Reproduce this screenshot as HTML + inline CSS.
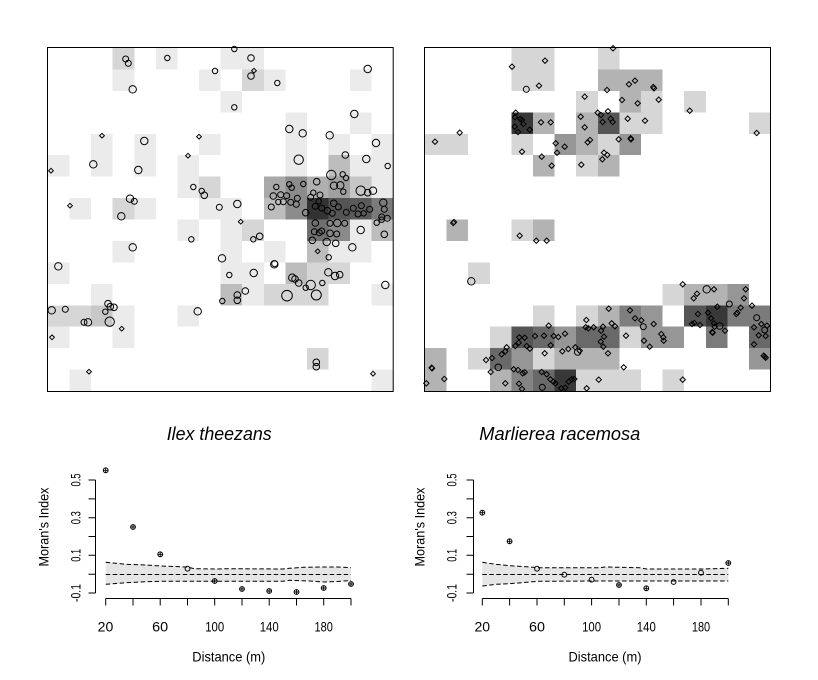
<!DOCTYPE html>
<html><head><meta charset="utf-8"><style>
html,body{margin:0;padding:0;background:#fff;}
svg{display:block;}
text{font-family:"Liberation Sans",Arial,sans-serif;fill:#000;}
</style></head><body>
<svg width="818" height="680" viewBox="0 0 818 680" xmlns="http://www.w3.org/2000/svg">
<defs>
<path id="d" d="M0,-2.4L2.4,0L0,2.4L-2.4,0Z" fill="none" stroke="#000" stroke-width="1"/>
<path id="e" d="M0,-2.7L2.7,0L0,2.7L-2.7,0Z" fill="none" stroke="#000" stroke-width="1"/>
<g id="cp"><circle r="2.4" fill="none" stroke="#000" stroke-width="1"/><path d="M-2.4,0H2.4M0,-2.4V2.4" stroke="#000" stroke-width="0.9"/></g>
<circle id="co" r="2.4" fill="none" stroke="#000" stroke-width="1"/>
</defs>
<rect width="818" height="680" fill="#fff"/>

<!-- Panel 1 cells -->
<g transform="translate(48,48) scale(21.58,21.44)" shape-rendering="crispEdges">
<rect x="3" y="0" width="1" height="1" fill="#d6d6d6"/><rect x="5" y="0" width="1" height="1" fill="#ebebeb"/><rect x="8" y="0" width="2" height="1" fill="#ebebeb"/>
<rect x="3" y="1" width="1" height="1" fill="#ebebeb"/><rect x="7" y="1" width="1" height="1" fill="#ebebeb"/><rect x="9" y="1" width="1" height="1" fill="#d6d6d6"/><rect x="10" y="1" width="1" height="1" fill="#ebebeb"/><rect x="14" y="1" width="1" height="1" fill="#ebebeb"/>
<rect x="8" y="2" width="1" height="1" fill="#ebebeb"/>
<rect x="11" y="3" width="1" height="1" fill="#ebebeb"/><rect x="14" y="3" width="1" height="1" fill="#ebebeb"/>
<rect x="2" y="4" width="1" height="1" fill="#ebebeb"/><rect x="4" y="4" width="1" height="1" fill="#ebebeb"/><rect x="7" y="4" width="1" height="1" fill="#ebebeb"/><rect x="11" y="4" width="1" height="1" fill="#ebebeb"/><rect x="13" y="4" width="1" height="1" fill="#ebebeb"/><rect x="15" y="4" width="1" height="1" fill="#ebebeb"/>
<rect x="0" y="5" width="1" height="1" fill="#ebebeb"/><rect x="2" y="5" width="1" height="1" fill="#ebebeb"/><rect x="4" y="5" width="1" height="1" fill="#ebebeb"/><rect x="6" y="5" width="1" height="1" fill="#ebebeb"/><rect x="11" y="5" width="1" height="1" fill="#ebebeb"/><rect x="13" y="5" width="1" height="1" fill="#bdbdbd"/><rect x="14" y="5" width="2" height="1" fill="#ebebeb"/>
<rect x="6" y="6" width="1" height="1" fill="#ebebeb"/><rect x="7" y="6" width="1" height="1" fill="#d6d6d6"/><rect x="10" y="6" width="1" height="1" fill="#a8a8a8"/><rect x="11" y="6" width="1" height="1" fill="#8c8c8c"/><rect x="12" y="6" width="1" height="1" fill="#b0b0b0"/><rect x="13" y="6" width="1" height="1" fill="#a0a0a0"/><rect x="14" y="6" width="1" height="1" fill="#c6c6c6"/><rect x="15" y="6" width="1" height="1" fill="#ebebeb"/>
<rect x="1" y="7" width="1" height="1" fill="#ebebeb"/><rect x="3" y="7" width="1" height="1" fill="#d6d6d6"/><rect x="4" y="7" width="1" height="1" fill="#ebebeb"/><rect x="7" y="7" width="2" height="1" fill="#ebebeb"/><rect x="10" y="7" width="1" height="1" fill="#bdbdbd"/><rect x="11" y="7" width="1" height="1" fill="#8c8c8c"/><rect x="12" y="7" width="1" height="1" fill="#333333"/><rect x="13" y="7" width="1" height="1" fill="#555555"/><rect x="14" y="7" width="1" height="1" fill="#5a5a5a"/><rect x="15" y="7" width="1" height="1" fill="#7b7b7b"/>
<rect x="6" y="8" width="1" height="1" fill="#ebebeb"/><rect x="8" y="8" width="1" height="1" fill="#ebebeb"/><rect x="9" y="8" width="1" height="1" fill="#d6d6d6"/><rect x="12" y="8" width="1" height="1" fill="#707070"/><rect x="13" y="8" width="1" height="1" fill="#8a8a8a"/><rect x="14" y="8" width="1" height="1" fill="#ebebeb"/><rect x="15" y="8" width="1" height="1" fill="#bdbdbd"/>
<rect x="3" y="9" width="1" height="1" fill="#ebebeb"/><rect x="8" y="9" width="1" height="1" fill="#ebebeb"/><rect x="10" y="9" width="1" height="1" fill="#ebebeb"/><rect x="12" y="9" width="1" height="1" fill="#bdbdbd"/><rect x="13" y="9" width="2" height="1" fill="#ebebeb"/>
<rect x="0" y="10" width="1" height="1" fill="#ebebeb"/><rect x="8" y="10" width="2" height="1" fill="#ebebeb"/><rect x="11" y="10" width="1" height="1" fill="#bdbdbd"/><rect x="12" y="10" width="2" height="1" fill="#d6d6d6"/>
<rect x="2" y="11" width="1" height="1" fill="#ebebeb"/><rect x="8" y="11" width="1" height="1" fill="#bdbdbd"/><rect x="9" y="11" width="1" height="1" fill="#ebebeb"/><rect x="10" y="11" width="3" height="1" fill="#d6d6d6"/><rect x="15" y="11" width="1" height="1" fill="#ebebeb"/>
<rect x="0" y="12" width="2" height="1" fill="#d6d6d6"/><rect x="2" y="12" width="1" height="1" fill="#c8c8c8"/><rect x="3" y="12" width="1" height="1" fill="#ebebeb"/><rect x="6" y="12" width="1" height="1" fill="#ebebeb"/>
<rect x="0" y="13" width="1" height="1" fill="#ebebeb"/><rect x="3" y="13" width="1" height="1" fill="#ebebeb"/>
<rect x="12" y="14" width="1" height="1" fill="#d6d6d6"/>
<rect x="1" y="15" width="1" height="1" fill="#ebebeb"/><rect x="15" y="15" width="1" height="1" fill="#ebebeb"/>
</g>

<!-- Panel 2 cells -->
<g transform="translate(425,48) scale(21.6,21.44)" shape-rendering="crispEdges">
<rect x="4" y="0" width="2" height="1" fill="#d6d6d6"/><rect x="8" y="0" width="1" height="1" fill="#d6d6d6"/>
<rect x="4" y="1" width="2" height="1" fill="#d6d6d6"/><rect x="8" y="1" width="3" height="1" fill="#b3b3b3"/>
<rect x="7" y="2" width="1" height="1" fill="#d6d6d6"/><rect x="9" y="2" width="1" height="1" fill="#b3b3b3"/><rect x="10" y="2" width="1" height="1" fill="#d6d6d6"/><rect x="12" y="2" width="1" height="1" fill="#d6d6d6"/>
<rect x="4" y="3" width="1" height="1" fill="#383838"/><rect x="5" y="3" width="1" height="1" fill="#b3b3b3"/><rect x="7" y="3" width="1" height="1" fill="#b3b3b3"/><rect x="8" y="3" width="1" height="1" fill="#555555"/><rect x="9" y="3" width="2" height="1" fill="#d6d6d6"/><rect x="15" y="3" width="1" height="1" fill="#d6d6d6"/>
<rect x="0" y="4" width="2" height="1" fill="#d6d6d6"/><rect x="4" y="4" width="1" height="1" fill="#d6d6d6"/><rect x="6" y="4" width="1" height="1" fill="#969696"/><rect x="7" y="4" width="1" height="1" fill="#b3b3b3"/><rect x="8" y="4" width="1" height="1" fill="#d6d6d6"/><rect x="9" y="4" width="1" height="1" fill="#969696"/>
<rect x="5" y="5" width="1" height="1" fill="#b3b3b3"/><rect x="7" y="5" width="1" height="1" fill="#d6d6d6"/><rect x="8" y="5" width="1" height="1" fill="#b3b3b3"/>
<rect x="1" y="8" width="1" height="1" fill="#b3b3b3"/><rect x="4" y="8" width="1" height="1" fill="#d6d6d6"/><rect x="5" y="8" width="1" height="1" fill="#b3b3b3"/>
<rect x="2" y="10" width="1" height="1" fill="#d6d6d6"/>
<rect x="11" y="11" width="1" height="1" fill="#d6d6d6"/><rect x="12" y="11" width="2" height="1" fill="#b3b3b3"/><rect x="14" y="11" width="1" height="1" fill="#969696"/>
<rect x="5" y="12" width="1" height="1" fill="#d6d6d6"/><rect x="7" y="12" width="1" height="1" fill="#d6d6d6"/><rect x="8" y="12" width="1" height="1" fill="#b3b3b3"/><rect x="9" y="12" width="1" height="1" fill="#7f7f7f"/><rect x="10" y="12" width="1" height="1" fill="#969696"/><rect x="12" y="12" width="1" height="1" fill="#555555"/><rect x="13" y="12" width="1" height="1" fill="#383838"/><rect x="14" y="12" width="2" height="1" fill="#7b7b7b"/>
<rect x="3" y="13" width="1" height="1" fill="#d6d6d6"/><rect x="4" y="13" width="1" height="1" fill="#555555"/><rect x="5" y="13" width="1" height="1" fill="#696969"/><rect x="6" y="13" width="1" height="1" fill="#969696"/><rect x="7" y="13" width="2" height="1" fill="#696969"/><rect x="9" y="13" width="1" height="1" fill="#d6d6d6"/><rect x="10" y="13" width="2" height="1" fill="#969696"/><rect x="13" y="13" width="1" height="1" fill="#7b7b7b"/><rect x="15" y="13" width="1" height="1" fill="#696969"/>
<rect x="0" y="14" width="1" height="1" fill="#b3b3b3"/><rect x="2" y="14" width="1" height="1" fill="#d6d6d6"/><rect x="3" y="14" width="1" height="1" fill="#696969"/><rect x="4" y="14" width="1" height="1" fill="#969696"/><rect x="5" y="14" width="1" height="1" fill="#d6d6d6"/><rect x="6" y="14" width="3" height="1" fill="#b3b3b3"/><rect x="15" y="14" width="1" height="1" fill="#969696"/>
<rect x="0" y="15" width="1" height="1" fill="#b3b3b3"/><rect x="3" y="15" width="1" height="1" fill="#b3b3b3"/><rect x="4" y="15" width="1" height="1" fill="#848484"/><rect x="5" y="15" width="1" height="1" fill="#696969"/><rect x="6" y="15" width="1" height="1" fill="#383838"/><rect x="7" y="15" width="3" height="1" fill="#d6d6d6"/><rect x="11" y="15" width="1" height="1" fill="#d6d6d6"/>
</g>

<!-- Panel 1 markers -->
<g fill="none" stroke="#000" stroke-width="1">
<circle cx="234.3" cy="49" r="2.7"/><circle cx="125.7" cy="59" r="3"/><circle cx="128.3" cy="63.3" r="3"/><circle cx="167.3" cy="58" r="2.7"/><circle cx="251" cy="58" r="3.3"/><circle cx="215" cy="71" r="2.7"/><circle cx="251" cy="76" r="3.3"/><circle cx="277.3" cy="83" r="2.7"/><circle cx="367.7" cy="69" r="3.7"/><circle cx="132.7" cy="89.3" r="3.7"/><circle cx="234.3" cy="107.3" r="2.7"/><circle cx="354.3" cy="114" r="3.7"/><circle cx="289.3" cy="129" r="3.7"/><circle cx="302.7" cy="133.3" r="3.7"/><circle cx="329.7" cy="135.3" r="3.7"/><circle cx="144.3" cy="141" r="3.7"/><circle cx="376" cy="143" r="3.7"/><circle cx="298.7" cy="159.7" r="4.7"/><circle cx="345.3" cy="155" r="3.3"/><circle cx="366.3" cy="159" r="3.7"/><circle cx="387.7" cy="166" r="2.7"/><circle cx="93.3" cy="164.3" r="3.7"/><circle cx="138.3" cy="170" r="3.7"/><circle cx="331.3" cy="175" r="4.7"/><circle cx="342.7" cy="174.3" r="2.7"/><circle cx="346" cy="178" r="2.7"/><circle cx="193.3" cy="187" r="2.7"/><circle cx="201.7" cy="191" r="2.7"/><circle cx="204.3" cy="195.3" r="3.3"/><circle cx="276.3" cy="187" r="2.7"/><circle cx="289.3" cy="184.3" r="2.7"/><circle cx="291.7" cy="187.7" r="2.7"/><circle cx="303.3" cy="184" r="2.7"/><circle cx="316.7" cy="181.7" r="3.3"/><circle cx="334" cy="185.7" r="3.7"/><circle cx="340.3" cy="185.3" r="3.7"/><circle cx="343.3" cy="191.7" r="2.7"/><circle cx="360.7" cy="190.7" r="4.7"/><circle cx="367.7" cy="192.7" r="3.3"/><circle cx="373" cy="190.7" r="3.7"/><circle cx="130" cy="198.7" r="3.7"/><circle cx="134.3" cy="201.3" r="3"/><circle cx="219.3" cy="207.3" r="3"/><circle cx="237.3" cy="204" r="3.7"/><circle cx="273.3" cy="196" r="3.3"/><circle cx="280.7" cy="194.7" r="3"/><circle cx="286.7" cy="195.7" r="3"/><circle cx="278.3" cy="202" r="2.7"/><circle cx="283.3" cy="201.7" r="3"/><circle cx="290.7" cy="202.3" r="3"/><circle cx="296.3" cy="204.3" r="3"/><circle cx="297.3" cy="198.3" r="3"/><circle cx="271.3" cy="207" r="3"/><circle cx="313.3" cy="192.7" r="2.7"/><circle cx="310.7" cy="197.3" r="3"/><circle cx="320" cy="195" r="3"/><circle cx="318.7" cy="201.3" r="2.7"/><circle cx="315.3" cy="206.3" r="3"/><circle cx="321.7" cy="208" r="3"/><circle cx="327.3" cy="210.7" r="3.3"/><circle cx="333.7" cy="203.3" r="3.3"/><circle cx="332.3" cy="213.3" r="3"/><circle cx="338.3" cy="207" r="3"/><circle cx="346.3" cy="212.3" r="3"/><circle cx="353.3" cy="208.3" r="3"/><circle cx="361.3" cy="205.7" r="3"/><circle cx="358" cy="214" r="3"/><circle cx="363.7" cy="213.3" r="2.7"/><circle cx="369.7" cy="209.3" r="3"/><circle cx="383.3" cy="202.7" r="3.7"/><circle cx="384.3" cy="209.3" r="3"/><circle cx="381.7" cy="217" r="3"/><circle cx="387.3" cy="218.3" r="3"/><circle cx="376.7" cy="222.7" r="2.7"/><circle cx="381.7" cy="219.7" r="2.7"/><circle cx="305.7" cy="212.7" r="3.3"/><circle cx="121.3" cy="216.3" r="3.7"/><circle cx="315.3" cy="223" r="3.3"/><circle cx="330" cy="223.3" r="3"/><circle cx="337.3" cy="223" r="3.7"/><circle cx="344.7" cy="223.3" r="3"/><circle cx="314.3" cy="231.7" r="3"/><circle cx="321.7" cy="231" r="3"/><circle cx="319.3" cy="232.7" r="3"/><circle cx="330" cy="233.3" r="3.3"/><circle cx="336.7" cy="234" r="3"/><circle cx="312.3" cy="240.3" r="3.3"/><circle cx="326.7" cy="242" r="3.7"/><circle cx="335.7" cy="243.3" r="3.3"/><circle cx="360.7" cy="230" r="3.7"/><circle cx="384.3" cy="234.3" r="3.3"/><circle cx="259.7" cy="236.3" r="3.3"/><circle cx="253.3" cy="239.3" r="2.7"/><circle cx="191.3" cy="239.3" r="2.7"/><circle cx="132.7" cy="247.3" r="3.7"/><circle cx="352.3" cy="247.3" r="3.7"/><circle cx="328.7" cy="257.3" r="2.7"/><circle cx="222" cy="258.3" r="3.7"/><circle cx="274.7" cy="263.7" r="3"/><circle cx="274.3" cy="264.3" r="3.7"/><circle cx="58.3" cy="266.3" r="3.7"/><circle cx="229.3" cy="275" r="2.7"/><circle cx="253.7" cy="273" r="3.7"/><circle cx="292.3" cy="277.7" r="3.7"/><circle cx="295" cy="279" r="3.3"/><circle cx="298.7" cy="283" r="3.3"/><circle cx="310.7" cy="285" r="4.7"/><circle cx="322.3" cy="283" r="2.7"/><circle cx="328.3" cy="272.3" r="3.7"/><circle cx="335" cy="276" r="3.7"/><circle cx="339.7" cy="274.7" r="3.3"/><circle cx="305.7" cy="287.7" r="2.7"/><circle cx="287" cy="295.7" r="5.3"/><circle cx="316.3" cy="295" r="5"/><circle cx="385.3" cy="285" r="3.7"/><circle cx="245.3" cy="291" r="3.3"/><circle cx="237.3" cy="295" r="3.3"/><circle cx="237.3" cy="300.3" r="3.3"/><circle cx="222.3" cy="301" r="2.7"/><circle cx="51.7" cy="310.3" r="3.7"/><circle cx="65.3" cy="309.3" r="3"/><circle cx="108" cy="303.7" r="3.3"/><circle cx="110.3" cy="306.7" r="3.3"/><circle cx="114" cy="307.3" r="3.3"/><circle cx="105.3" cy="311.7" r="2.7"/><circle cx="197.7" cy="311.3" r="3.7"/><circle cx="84" cy="322.3" r="3"/><circle cx="88" cy="322.3" r="3.7"/><circle cx="109.7" cy="321.7" r="4.7"/><circle cx="316.3" cy="362.3" r="3.3"/><circle cx="316.3" cy="366.7" r="3.3"/>
</g>
<g>
<use href="#d" x="254" y="70.7"/><use href="#d" x="102" y="135.7"/><use href="#d" x="199" y="136.7"/><use href="#d" x="188" y="155.7"/><use href="#d" x="51" y="170.7"/><use href="#d" x="70" y="205.7"/><use href="#d" x="240.7" y="221.7"/><use href="#d" x="317.7" y="251.3"/><use href="#d" x="121.7" y="328.7"/><use href="#d" x="52" y="337.3"/><use href="#d" x="89" y="371.7"/><use href="#d" x="373" y="373.7"/>
</g>

<!-- Panel 2 markers -->
<g>
<use href="#e" x="613" y="48.3"/><use href="#e" x="512" y="66.7"/><use href="#e" x="545" y="60.7"/><use href="#e" x="539" y="85.7"/><use href="#e" x="607" y="90"/><use href="#e" x="629" y="84.3"/><use href="#e" x="635" y="80.7"/><use href="#e" x="653.3" y="87"/><use href="#e" x="654" y="88.3"/><use href="#e" x="584.7" y="96.7"/><use href="#e" x="622" y="100"/><use href="#e" x="637.7" y="103.3"/><use href="#e" x="658.7" y="99.7"/><use href="#e" x="689.7" y="110.7"/><use href="#e" x="515.7" y="112.7"/><use href="#e" x="515" y="117.3"/><use href="#e" x="520.3" y="119"/><use href="#e" x="522" y="120"/><use href="#e" x="514.7" y="126.7"/><use href="#e" x="518" y="132"/><use href="#e" x="523.3" y="124"/><use href="#e" x="529.7" y="129.7"/><use href="#e" x="541" y="122.3"/><use href="#e" x="550.7" y="122.3"/><use href="#e" x="580.7" y="116.7"/><use href="#e" x="597.7" y="112.7"/><use href="#e" x="601" y="115"/><use href="#e" x="608" y="111.3"/><use href="#e" x="610.7" y="118.7"/><use href="#e" x="612.7" y="122"/><use href="#e" x="602.7" y="122"/><use href="#e" x="584.7" y="127.3"/><use href="#e" x="627.7" y="118.7"/><use href="#e" x="645" y="120.7"/><use href="#e" x="756.7" y="133"/><use href="#e" x="459.7" y="132.7"/><use href="#e" x="435" y="141.7"/><use href="#e" x="555.7" y="143.3"/><use href="#e" x="557" y="152.7"/><use href="#e" x="564.7" y="146.7"/><use href="#e" x="587.7" y="142.3"/><use href="#e" x="590" y="140"/><use href="#e" x="522" y="151.7"/><use href="#e" x="541.7" y="156.7"/><use href="#e" x="551.7" y="165.7"/><use href="#e" x="581.3" y="164.7"/><use href="#e" x="602.3" y="159.3"/><use href="#e" x="604" y="152.7"/><use href="#e" x="607.3" y="155"/><use href="#e" x="618.7" y="139.3"/><use href="#e" x="630.7" y="138.3"/><use href="#e" x="631" y="139.3"/>
<use href="#e" x="453.3" y="223"/><use href="#e" x="454" y="222"/><use href="#e" x="519.7" y="235.7"/><use href="#e" x="536.3" y="240.7"/><use href="#e" x="546.7" y="240.7"/>
<use href="#e" x="682.7" y="284.3"/><use href="#e" x="714" y="289.3"/><use href="#e" x="697" y="293.7"/><use href="#e" x="693.7" y="298.3"/><use href="#e" x="745.7" y="289.3"/><use href="#e" x="744" y="298.3"/><use href="#e" x="752" y="305.7"/><use href="#e" x="740.7" y="307.7"/><use href="#e" x="737.3" y="312.7"/><use href="#e" x="736.3" y="314"/><use href="#e" x="717.3" y="306.7"/><use href="#e" x="698" y="314"/><use href="#e" x="694.3" y="323"/><use href="#e" x="692" y="324"/><use href="#e" x="700" y="325"/><use href="#e" x="708" y="312.7"/><use href="#e" x="711" y="318.3"/><use href="#e" x="714" y="323.3"/><use href="#e" x="712.3" y="332"/><use href="#e" x="712.6" y="332.8"/><use href="#e" x="725" y="330.7"/><use href="#e" x="714.7" y="326.7"/><use href="#e" x="761.3" y="324"/><use href="#e" x="767" y="325.7"/><use href="#e" x="754" y="327.3"/><use href="#e" x="758.7" y="335.3"/><use href="#e" x="765.7" y="336"/><use href="#e" x="754" y="344.3"/><use href="#e" x="763.7" y="355.7"/><use href="#e" x="764.7" y="356.7"/><use href="#e" x="765.7" y="357.7"/>
<use href="#e" x="608.7" y="308.7"/><use href="#e" x="630" y="310.3"/><use href="#e" x="635" y="318.3"/><use href="#e" x="641.3" y="320.3"/><use href="#e" x="653.7" y="324"/><use href="#e" x="626" y="335.7"/><use href="#e" x="644" y="340.7"/><use href="#e" x="649.7" y="346.7"/><use href="#e" x="661.3" y="334"/><use href="#e" x="663.3" y="337.3"/><use href="#e" x="663.7" y="340.7"/><use href="#e" x="548.7" y="325.7"/><use href="#e" x="586.3" y="320"/><use href="#e" x="585.7" y="327.3"/><use href="#e" x="588.3" y="328.3"/><use href="#e" x="593.7" y="327.3"/><use href="#e" x="603" y="326.7"/><use href="#e" x="601" y="330.7"/><use href="#e" x="604" y="336.7"/><use href="#e" x="600.7" y="341.7"/><use href="#e" x="603.3" y="346.7"/><use href="#e" x="611.7" y="323.3"/><use href="#e" x="615" y="326.3"/>
<use href="#e" x="519.3" y="337.3"/><use href="#e" x="524.7" y="337.7"/><use href="#e" x="518.7" y="342.7"/><use href="#e" x="515.3" y="346"/><use href="#e" x="535" y="336"/><use href="#e" x="544" y="335.7"/><use href="#e" x="550.7" y="345.3"/><use href="#e" x="553.7" y="336"/><use href="#e" x="558.3" y="337"/><use href="#e" x="565" y="333.7"/><use href="#e" x="526.7" y="346"/><use href="#e" x="530" y="348.7"/><use href="#e" x="506.7" y="347.3"/><use href="#e" x="505.3" y="351.3"/><use href="#e" x="501.7" y="354.3"/><use href="#e" x="492" y="358"/><use href="#e" x="486" y="360"/><use href="#e" x="544.7" y="353.3"/><use href="#e" x="562.3" y="351.3"/><use href="#e" x="568.3" y="349"/><use href="#e" x="575.3" y="347.3"/><use href="#e" x="579.7" y="350.7"/><use href="#e" x="608" y="353.3"/><use href="#e" x="623.7" y="367.3"/>
<use href="#e" x="490.7" y="372"/><use href="#e" x="513.7" y="369.3"/><use href="#e" x="518" y="370"/><use href="#e" x="522.7" y="373.3"/><use href="#e" x="524.7" y="372.3"/><use href="#e" x="541.7" y="372"/><use href="#e" x="546.7" y="374.3"/><use href="#e" x="550.3" y="379.3"/><use href="#e" x="553.3" y="381.7"/><use href="#e" x="555.3" y="383.3"/><use href="#e" x="561.3" y="388.3"/><use href="#e" x="565.3" y="387.7"/><use href="#e" x="568.7" y="381.7"/><use href="#e" x="571.7" y="379.3"/><use href="#e" x="574.3" y="379"/><use href="#e" x="519" y="383.7"/><use href="#e" x="522" y="389"/><use href="#e" x="505.3" y="383.3"/><use href="#e" x="431.7" y="367.7"/><use href="#e" x="432" y="368.4"/><use href="#e" x="444.3" y="379"/><use href="#e" x="426.3" y="383.3"/><use href="#e" x="586.7" y="388.3"/><use href="#e" x="598.7" y="379.7"/><use href="#e" x="682.7" y="379.7"/>
</g>
<g fill="none" stroke="#000" stroke-width="1">
<circle cx="526.3" cy="89.3" r="3"/><circle cx="471.3" cy="281.3" r="3.7"/><circle cx="706.7" cy="289.3" r="3.7"/><circle cx="729.3" cy="304" r="3"/><circle cx="719.7" cy="326" r="3.3"/><circle cx="756.7" cy="317.7" r="3"/><circle cx="764.7" cy="330" r="3"/><circle cx="643.3" cy="326.7" r="3"/><circle cx="577.7" cy="352" r="3.3"/><circle cx="498.3" cy="367.3" r="3.3"/><circle cx="542.3" cy="387.3" r="3"/>
</g>

<!-- Panel borders -->
<rect x="47.5" y="47.5" width="345.7" height="344" fill="none" stroke="#000" stroke-width="1"/>
<rect x="424.5" y="47.5" width="346" height="344" fill="none" stroke="#000" stroke-width="1"/>

<!-- Titles -->
<text x="166.7" y="440" font-size="18" font-style="italic" textLength="105" lengthAdjust="spacingAndGlyphs">Ilex theezans</text>
<text x="479.3" y="440" font-size="18" font-style="italic" textLength="161" lengthAdjust="spacingAndGlyphs">Marlierea racemosa</text>

<!-- Moran plot 1 -->
<path d="M105.7,562.3 L126,564.3 L146.6,565 L160.2,566 L187.5,567 L194.3,568.7 L214.7,569 L228.3,568.7 L282.8,569 L289.6,568.3 L303.2,567.3 L323.7,567 L337.3,567 L351,567.7 L351,580.5 L337.3,581.5 L323.7,582 L310,581 L289.6,580.3 L282.8,581.3 L160.2,581.3 L146.6,581.7 L126,582.7 L105.7,584.3 Z" fill="#e6e6e6"/>
<g fill="none" stroke="#000" stroke-width="1" stroke-dasharray="4.5,2.5">
<path d="M105.7,562.3 L126,564.3 L146.6,565 L160.2,566 L187.5,567 L194.3,568.7 L214.7,569 L228.3,568.7 L282.8,569 L289.6,568.3 L303.2,567.3 L323.7,567 L337.3,567 L351,567.7"/>
<path d="M105.7,584.3 L126,582.7 L146.6,581.7 L160.2,581.3 L282.8,581.3 L289.6,580.3 L310,581 L323.7,582 L337.3,581.5 L351,580.5"/>
<path d="M105.7,574.5 L351,574.5"/>
</g>
<g fill="none" stroke="#000" stroke-width="1">
<path d="M95.5,480 V593 M88.5,480 H95.5 M88.5,498.9 H95.5 M88.5,517.7 H95.5 M88.5,536.5 H95.5 M88.5,555.3 H95.5 M88.5,574.2 H95.5 M88.5,593 H95.5"/>
<path d="M105.7,598.5 H351 M105.7,598.5 V605.5 M133,598.5 V605.5 M160.2,598.5 V605.5 M187.5,598.5 V605.5 M214.7,598.5 V605.5 M242,598.5 V605.5 M269.2,598.5 V605.5 M296.5,598.5 V605.5 M323.7,598.5 V605.5 M351,598.5 V605.5"/>
</g>
<g font-size="14">
<text transform="translate(80.7,480) rotate(-90)" text-anchor="middle" textLength="13" lengthAdjust="spacingAndGlyphs">0.5</text>
<text transform="translate(80.7,517.7) rotate(-90)" text-anchor="middle" textLength="13" lengthAdjust="spacingAndGlyphs">0.3</text>
<text transform="translate(80.7,555.3) rotate(-90)" text-anchor="middle" textLength="13" lengthAdjust="spacingAndGlyphs">0.1</text>
<text transform="translate(80.7,593) rotate(-90)" text-anchor="middle" textLength="18" lengthAdjust="spacingAndGlyphs">-0.1</text>
<text x="105.5" y="631.7" text-anchor="middle" textLength="15.6" lengthAdjust="spacingAndGlyphs">20</text>
<text x="160.2" y="631.7" text-anchor="middle" textLength="16" lengthAdjust="spacingAndGlyphs">60</text>
<text x="214.7" y="631.7" text-anchor="middle" textLength="19" lengthAdjust="spacingAndGlyphs">100</text>
<text x="269.2" y="631.7" text-anchor="middle" textLength="19" lengthAdjust="spacingAndGlyphs">140</text>
<text x="323.7" y="631.7" text-anchor="middle" textLength="18.3" lengthAdjust="spacingAndGlyphs">180</text>
<text x="228.8" y="661.5" text-anchor="middle" textLength="73" lengthAdjust="spacingAndGlyphs">Distance (m)</text>
<text transform="translate(48.5,527) rotate(-90)" text-anchor="middle" textLength="79" lengthAdjust="spacingAndGlyphs">Moran's Index</text>
</g>
<g>
<use href="#cp" x="105.7" y="470.3"/><use href="#cp" x="133" y="527"/><use href="#cp" x="160.2" y="554.3"/><use href="#co" x="187.5" y="568.7"/><use href="#cp" x="214.7" y="581"/><use href="#cp" x="242" y="589"/><use href="#cp" x="269.2" y="591"/><use href="#cp" x="296.5" y="592"/><use href="#cp" x="323.7" y="588"/><use href="#cp" x="351" y="584"/>
</g>

<!-- Moran plot 2 -->
<path d="M482.3,562.3 L496,564.3 L509.6,565.7 L530.1,567 L537,567.7 L598.5,567.7 L605.3,567 L639.5,567.7 L646.3,569 L701,569 L728.3,568.3 L728.3,581 L591.6,581 L537,581.3 L530.1,582 L509.6,583.7 L496,584.3 L482.3,586 Z" fill="#e6e6e6"/>
<g fill="none" stroke="#000" stroke-width="1" stroke-dasharray="4.5,2.5">
<path d="M482.3,562.3 L496,564.3 L509.6,565.7 L530.1,567 L537,567.7 L598.5,567.7 L605.3,567 L639.5,567.7 L646.3,569 L701,569 L728.3,568.3"/>
<path d="M482.3,586 L496,584.3 L509.6,583.7 L530.1,582 L537,581.3 L591.6,581 L728.3,581"/>
<path d="M482.3,574.5 L728.3,574.5"/>
</g>
<g fill="none" stroke="#000" stroke-width="1">
<path d="M473.5,480 V593 M466.5,480 H473.5 M466.5,498.9 H473.5 M466.5,517.7 H473.5 M466.5,536.5 H473.5 M466.5,555.3 H473.5 M466.5,574.2 H473.5 M466.5,593 H473.5"/>
<path d="M482.3,598.5 H728.3 M482.3,598.5 V605.5 M509.6,598.5 V605.5 M537,598.5 V605.5 M564.3,598.5 V605.5 M591.6,598.5 V605.5 M619,598.5 V605.5 M646.3,598.5 V605.5 M673.6,598.5 V605.5 M701,598.5 V605.5 M728.3,598.5 V605.5"/>
</g>
<g font-size="14">
<text transform="translate(456.7,480) rotate(-90)" text-anchor="middle" textLength="13" lengthAdjust="spacingAndGlyphs">0.5</text>
<text transform="translate(456.7,517.7) rotate(-90)" text-anchor="middle" textLength="13" lengthAdjust="spacingAndGlyphs">0.3</text>
<text transform="translate(456.7,555.3) rotate(-90)" text-anchor="middle" textLength="13" lengthAdjust="spacingAndGlyphs">0.1</text>
<text transform="translate(456.7,593) rotate(-90)" text-anchor="middle" textLength="18" lengthAdjust="spacingAndGlyphs">-0.1</text>
<text x="482.3" y="631.7" text-anchor="middle" textLength="15.6" lengthAdjust="spacingAndGlyphs">20</text>
<text x="537" y="631.7" text-anchor="middle" textLength="16" lengthAdjust="spacingAndGlyphs">60</text>
<text x="591.6" y="631.7" text-anchor="middle" textLength="19" lengthAdjust="spacingAndGlyphs">100</text>
<text x="646.3" y="631.7" text-anchor="middle" textLength="19" lengthAdjust="spacingAndGlyphs">140</text>
<text x="701" y="631.7" text-anchor="middle" textLength="18.3" lengthAdjust="spacingAndGlyphs">180</text>
<text x="605" y="661.5" text-anchor="middle" textLength="73" lengthAdjust="spacingAndGlyphs">Distance (m)</text>
<text transform="translate(424.5,527) rotate(-90)" text-anchor="middle" textLength="79" lengthAdjust="spacingAndGlyphs">Moran's Index</text>
</g>
<g>
<use href="#cp" x="482.3" y="512.7"/><use href="#cp" x="509.6" y="541.3"/><use href="#co" x="537" y="568.7"/><use href="#co" x="564.3" y="574.7"/><use href="#co" x="591.6" y="579.7"/><use href="#cp" x="619" y="585"/><use href="#cp" x="646.3" y="588.3"/><use href="#co" x="673.6" y="582"/><use href="#co" x="701" y="572.7"/><use href="#cp" x="728.3" y="563"/>
</g>
</svg>
</body></html>
